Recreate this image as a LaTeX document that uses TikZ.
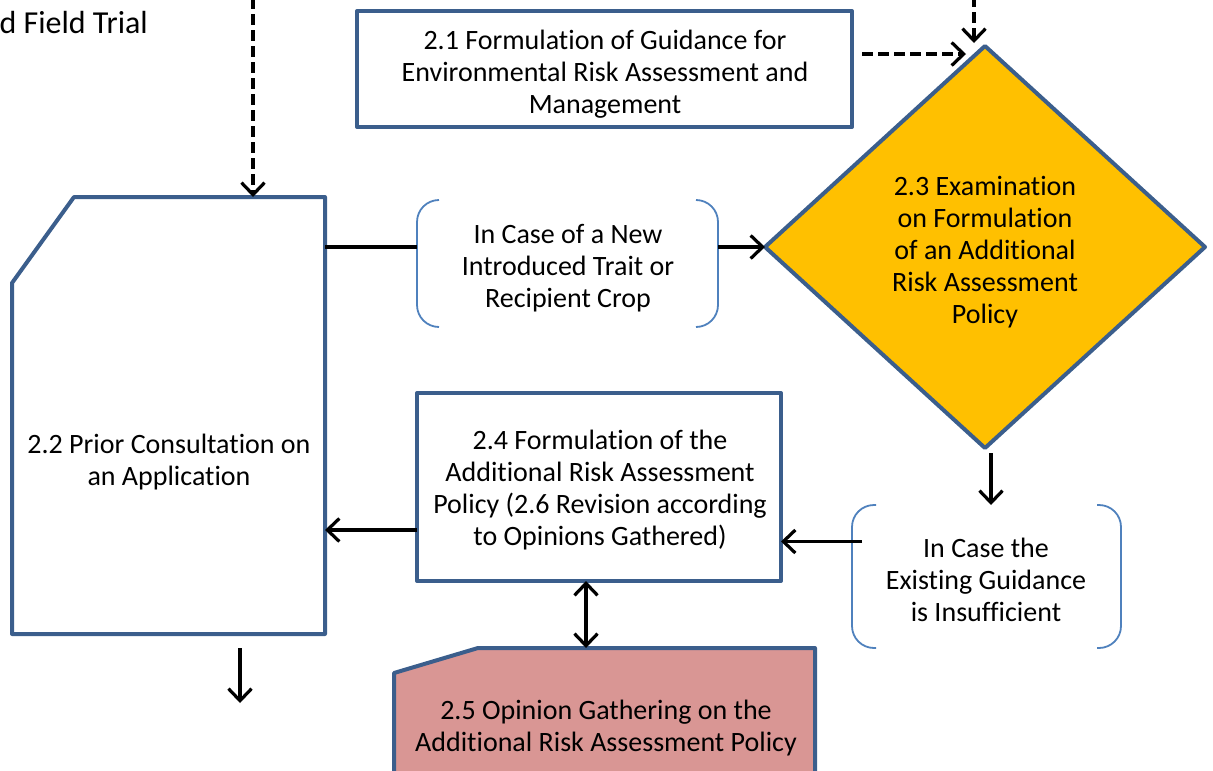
\documentclass[tikz,border=0pt]{standalone}
\usepackage{fontspec}
\setmainfont{Carlito}[Ligatures=NoCommon]
\usetikzlibrary{arrows.meta,calc}

\definecolor{boxblue}{HTML}{3B5E8C}
\definecolor{brblue}{HTML}{4F81BD}
\definecolor{gold}{HTML}{FFC000}
\definecolor{rose}{HTML}{D99694}

\begin{document}
\begin{tikzpicture}[x=1pt,y=-1pt,
  txt/.style={font=\fontsize{28}{32}\selectfont, align=center, inner sep=0pt},
  frame/.style={draw=boxblue, line width=4pt, line join=round},
  area/.style={draw=none, inner sep=0pt, outer sep=0pt,
    minimum width=#1},
  tall/.style={minimum height=#1},
  brace/.style={draw=brblue, line width=1.8pt, rounded corners=22pt},
  barb/.tip={Straight Barb[length=12pt,width=23pt,line width=3.2pt]},
  flow/.style={draw=black, line width=3.2pt, -{barb}},
  twoway/.style={draw=black, line width=3.2pt, {barb}-{barb}},
  plain/.style={draw=black, line width=3.2pt},
  dflow/.style={draw=black, line width=3.2pt, dash pattern=on 11pt off 5pt, -{barb}}
]
\useasboundingbox (0,0) rectangle (1213,771);

% ---------- outlines of the boxes ----------
\node[area=495pt, tall=116pt] (b21) at (604.5,69) {};
\node[area=440pt, tall=402pt] (dia) at (985,247) {};
\node[area=313pt, tall=437pt] (b22) at (168.5,415.5) {};
\node[area=364pt, tall=188pt] (b24) at (599,487) {};
\node[area=421pt, tall=160pt] (b25) at (604.5,728) {};
\node[area=301pt, tall=127pt] (br1) at (567.5,263.5) {};
\node[area=269pt, tall=143pt] (br2) at (986.5,576.5) {};

\draw[frame] (b21.north west) rectangle (b21.south east);
\draw[frame] (b24.north west) rectangle (b24.south east);
\filldraw[frame, fill=gold] (dia.north) -- (dia.east) -- (dia.south) -- (dia.west) -- cycle;
\draw[frame] ($(b22.north west)+(62,0)$) -- (b22.north east) -- (b22.south east)
  -- (b22.south west) -- ($(b22.north west)+(0,86)$) -- cycle;
\filldraw[frame, fill=rose] ($(b25.north west)+(84,0)$) -- (b25.north east) -- (b25.south east)
  -- (b25.south west) -- ($(b25.north west)+(0,25)$) -- cycle;

% bracket pairs
\draw[brace] ($(br1.north west)+(22,0)$) -- (br1.north west) -- (br1.south west) -- ($(br1.south west)+(22,0)$);
\draw[brace] ($(br1.north east)+(-22,0)$) -- (br1.north east) -- (br1.south east) -- ($(br1.south east)+(-22,0)$);
\draw[brace] ($(br2.north west)+(24,0)$) -- (br2.north west) -- (br2.south west) -- ($(br2.south west)+(24,0)$);
\draw[brace] ($(br2.north east)+(-24,0)$) -- (br2.north east) -- (br2.south east) -- ($(br2.south east)+(-24,0)$);

% ---------- texts ----------
\node[txt, font=\fontsize{32}{36}\selectfont, anchor=east] (trial) at (148,23) {d Field Trial};
\node[txt] (t21) at (605,74) {2.1 Formulation of Guidance for\\Environmental Risk Assessment and\\Management};
\node[txt] (t23) at (985,252) {2.3 Examination\\on Formulation\\of an Additional\\Risk Assessment\\Policy};
\node[txt] (t22) at (169,462) {2.2 Prior Consultation on\\an Application};
\node[txt] (t24) at (600,490) {2.4 Formulation of the\\Additional Risk Assessment\\Policy (2.6 Revision according\\to Opinions Gathered)};
\node[txt] (t25) at (606,728) {2.5 Opinion Gathering on the\\Additional Risk Assessment Policy};
\node[txt] (tb1) at (568,268) {In Case of a New\\Introduced Trait or\\Recipient Crop};
\node[txt] (tb2) at (986,580) {In Case the\\Existing Guidance\\is Insufficient};

% ---------- connectors ----------
\coordinate (src22) at (253,-2);
\draw[dflow] (src22) -- (src22 |- b22.north);

\coordinate (src23) at ($(dia.north)+(-11,-50)$);
\coordinate (end23) at ($(dia.north)+(-11,-3)$);
\draw[dflow] (src23) -- (end23);

\coordinate (s21) at ($(b21.east)+(10,-15)$);
\coordinate (e21) at ($(dia.north)+(-19,8)$);
\draw[dflow] (s21) -- (e21);

\draw[plain] (b22.east |- dia.west) -- (br1.west |- dia.west);
\draw[flow] (br1.east |- dia.west) -- (dia.west);

\coordinate (dbot) at ($(dia.south)+(6,5)$);
\draw[flow] (dbot) -- (dbot |- br2.north);

\coordinate (r2) at ($(br2.west)+(10,-35)$);
\draw[flow] (r2) -- (r2 -| b24.east);

\coordinate (l24) at ($(b24.west)+(0,43)$);
\draw[flow] (l24) -- (l24 -| b22.east);

\coordinate (mid) at ($(b24.south)+(-13,0)$);
\draw[twoway] (mid) -- (mid |- b25.north);

\coordinate (out22) at (240,703);
\draw[flow] ($(out22 |- b22.south)+(0,14)$) -- (out22);
\end{tikzpicture}
\end{document}
